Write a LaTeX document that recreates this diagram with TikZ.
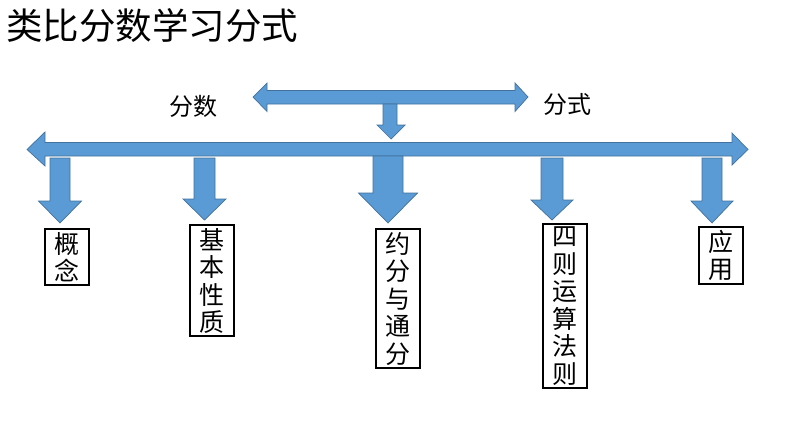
\documentclass[tikz,border=0pt]{standalone}
\usepackage{fontspec}
\setmainfont{Noto Sans CJK SC}
\usepackage{tikz}
\usetikzlibrary{positioning}

\definecolor{arrblue}{HTML}{5B9BD5}
\definecolor{arrline}{HTML}{41719C}

\tikzset{
  blockarr/.style={fill=arrblue,draw=arrline,line width=0.7pt,line join=miter},
  stepbox/.style={draw=black,line width=2pt,anchor=north,minimum width=44pt,
    inner xsep=0pt,inner ysep=3pt,align=center,
    font=\fontsize{25}{27.5}\selectfont},
  lbl/.style={font=\fontsize{24}{24}\selectfont,inner sep=0pt}
}

\begin{document}
\begin{tikzpicture}[x=1pt,y=-1pt]
\useasboundingbox (0,0) rectangle (794,447);
%\draw[] (0,0) grid (794,447);
% title
\node[anchor=west,inner sep=0pt,font=\fontsize{36.5}{36.5}\selectfont] (title) at (6,26) {类比分数学习分式};
% top double arrow
\filldraw[blockarr] (253,97) -- (267,83) -- (267,90.5) -- (515,90.5) -- (515,83) -- (528,97)
  -- (515,111.5) -- (515,104) -- (267,104) -- (267,111.5) -- cycle;
\node[lbl] (fenshu) at (193,106) {分数};
\node[lbl] (fenshi) at (567,104) {分式};
% small arrow down to the main bar
\filldraw[blockarr] (383,104) -- (397,104) -- (397,125) -- (405,125) -- (391,139)
  -- (377,125) -- (383,125) -- cycle;
% main double arrow
\filldraw[blockarr] (27,149.5) -- (45,132) -- (45,142.5) -- (732,142.5) -- (732,133) -- (748,149.5)
  -- (732,165) -- (732,156) -- (45,156) -- (45,166) -- cycle;
% boxes
\node[stepbox] (gainian) at (67,228) {概\\念};
\node[stepbox] (xingzhi) at (212,224) {基\\本\\性\\质};
\node[stepbox] (yuefen) at (398,228) {约\\分\\与\\通\\分};
\node[stepbox] (yunsuan) at (565,223) {四\\则\\运\\算\\法\\则};
\node[stepbox] (yingyong) at (721,226) {应\\用};
% arrows down to the boxes
\filldraw[blockarr] (50,158) -- (70,158) -- (70,201) -- (81.5,201) -- (60,223)
  -- (38.5,201) -- (50,201) -- cycle;
\filldraw[blockarr] (194,158) -- (215,158) -- (215,199) -- (226,199) -- (204.5,220)
  -- (183,199) -- (194,199) -- cycle;
\filldraw[blockarr] (373,156) -- (403,156) -- (403,193) -- (417.5,193) -- (388,223)
  -- (358.5,193) -- (373,193) -- cycle;
\filldraw[blockarr] (541,158) -- (563,158) -- (563,200) -- (573,200) -- (552,220)
  -- (531,200) -- (541,200) -- cycle;
\filldraw[blockarr] (702,158) -- (722,158) -- (722,201) -- (733,201) -- (712,223)
  -- (691,201) -- (702,201) -- cycle;
\end{tikzpicture}
\end{document}
